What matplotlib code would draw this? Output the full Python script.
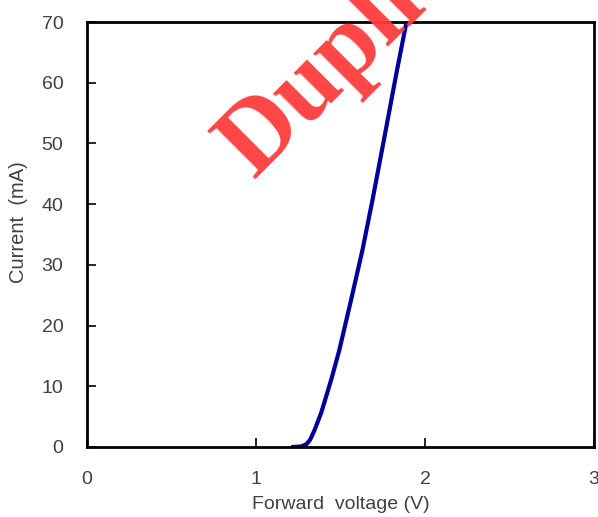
import matplotlib
matplotlib.use("Agg")
import matplotlib.pyplot as plt

# forward I-V curve of the LED
voltage = [1.22, 1.27, 1.30, 1.32, 1.345, 1.385, 1.42, 1.45, 1.493, 1.562,
           1.630, 1.689, 1.76, 1.83, 1.89]
current = [0.0, 0.1, 0.5, 1.2, 2.7, 5.6, 8.8, 11.6, 16.0, 24.2,
           32.5, 40.7, 51.1, 61.5, 70.0]

x_ticks = [0, 1, 2, 3]
y_ticks = [0, 10, 20, 30, 40, 50, 60, 70]

plt.rcParams['font.family'] = ['Liberation Sans', 'DejaVu Sans']

fig = plt.figure(figsize=(5.98, 5.17), dpi=100)
ax = fig.add_axes([0.1455, 0.1354, 0.848, 0.822])

ax.plot(voltage, current, color="#000099", linewidth=3, solid_joinstyle="round")

ax.set_xlim(0, 3)
ax.set_ylim(0, 70)
ax.set_xticks(x_ticks)
ax.set_yticks(y_ticks)

for side in ax.spines.values():
    side.set_linewidth(2)
    side.set_color("black")

ax.tick_params(direction="in", length=6.5, width=1.2, pad=17,
               labelsize=14, labelcolor="#404040", top=False, right=False)

ax.set_xlabel("Forward  voltage (V)", fontsize=14, color="#404040", labelpad=6)
ax.set_ylabel("Current  (mA)", fontsize=14.5, color="#404040")
ax.yaxis.set_label_coords(-0.116, 0.53)

# watermark stamped across the plot
fig.text(254 / 598, 1 - 179 / 517, "Duplicate", fontsize=74, fontweight="bold",
         family="Liberation Serif", color="#ff3b3b", alpha=0.95,
         rotation=45, rotation_mode="anchor", ha="left", va="baseline", zorder=10)

fig.savefig("out.png", dpi=100)
